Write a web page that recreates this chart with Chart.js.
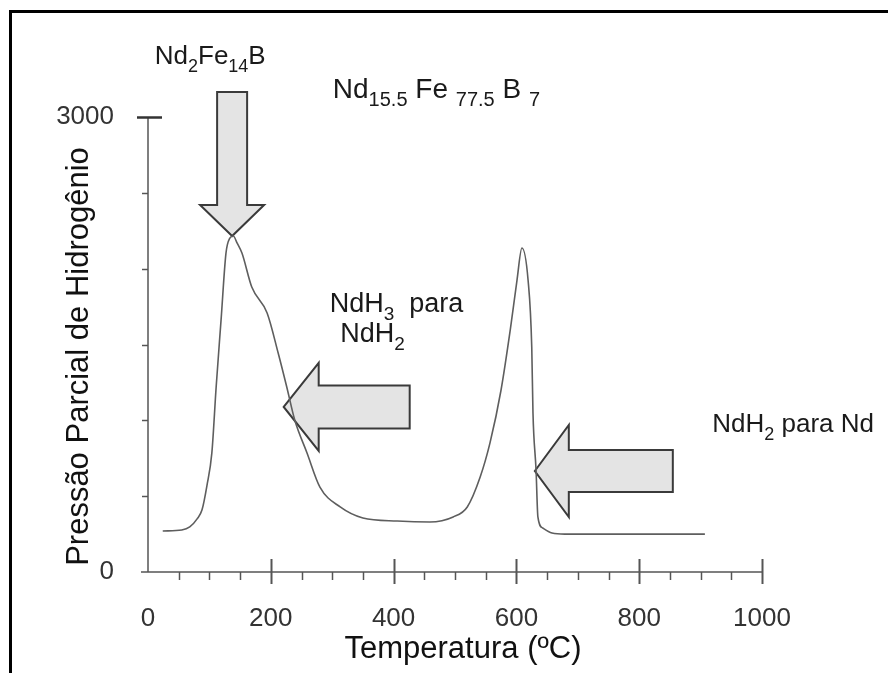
<!DOCTYPE html>
<html>
<head>
<meta charset="utf-8">
<title>Pressão parcial de hidrogênio</title>
<script src="https://cdn.jsdelivr.net/npm/chart.js@4/dist/chart.umd.min.js"></script>
<style>
  html, body { margin: 0; padding: 0; background: #fff; }
  #wrap { position: relative; width: 888px; height: 673px; overflow: hidden; }
  #frame {
    position: absolute; left: 9px; top: 10px; right: -10px; bottom: -10px;
    border-left: 3px solid #000; border-top: 3px solid #000; pointer-events: none;
  }
</style>
</head>
<body>
<div id="wrap">
  <canvas id="hChart" width="888" height="673"></canvas>
  <div id="frame"></div>
</div>
<script>
// curva de dessorção (temperatura em ºC, pressão parcial)
const temperatura = [24, 55, 68, 80, 88, 96, 104, 111, 119, 127, 133, 139, 145, 153, 169, 194, 212, 226, 239, 259, 280, 313, 350, 406, 459, 497, 520, 541, 557, 575, 590, 601, 609, 619, 625, 627, 632, 635, 643, 658, 679, 907];
const pressao = [270, 277, 297, 350, 410, 570, 785, 1220, 1662, 2103, 2200, 2215, 2170, 2103, 1879, 1708, 1444, 1220, 1002, 785, 560, 429, 356, 336, 330, 363, 429, 626, 851, 1200, 1596, 1925, 2136, 1925, 1483, 1048, 672, 363, 290, 257, 250, 250];

const xTickLabels = [0, 200, 400, 600, 800, 1000];
const yTickLabels = [0, 3000];

// setas: ponta em coordenadas dos dados, tamanhos em px
const setas = [
  { x: 137, y: 2215, dir: 'down', len: 144, head: 31, shaft: 30, headW: 64 },
  { x: 221, y: 1088, dir: 'left', len: 126, head: 35, shaft: 43, headW: 88 },
  { x: 630, y: 666, dir: 'left', len: 138, head: 34, shaft: 42, headW: 92 }
];

// rótulos com subscritos
const rotulos = [
  { x: 11, y: 3349, size: 26, parts: [['Nd'], ['2', 1], ['Fe'], ['14', 1], ['B']] },
  { x: 301, y: 3125, size: 28, parts: [['Nd'], ['15.5', 1], [' Fe '], ['77.5', 1], [' B '], ['7', 1]] },
  { x: 296, y: 1714, size: 27, parts: [['NdH'], ['3', 1], ['  para']] },
  { x: 313, y: 1516, size: 27, parts: [['NdH'], ['2', 1]] },
  { x: 919, y: 923, size: 26, parts: [['NdH'], ['2', 1], [' para Nd']] }
];

const FONT = "'Liberation Sans', Arial, Helvetica, sans-serif";
Chart.defaults.font.family = FONT;

function drawRich(ctx, x, y, parts, size) {
  let cx = x;
  parts.forEach(p => {
    const sub = p[1] === 1;
    ctx.font = (sub ? Math.round(size * 0.7) : size) + 'px ' + FONT;
    ctx.fillText(p[0], cx, sub ? y + size * 0.3 : y);
    cx += ctx.measureText(p[0]).width;
  });
}

function arrowPath(ctx, tx, ty, s) {
  const hs = s.shaft / 2, hh = s.headW / 2;
  ctx.beginPath();
  if (s.dir === 'left') {
    ctx.moveTo(tx, ty);
    ctx.lineTo(tx + s.head, ty - hh);
    ctx.lineTo(tx + s.head, ty - hs);
    ctx.lineTo(tx + s.len, ty - hs);
    ctx.lineTo(tx + s.len, ty + hs);
    ctx.lineTo(tx + s.head, ty + hs);
    ctx.lineTo(tx + s.head, ty + hh);
  } else {
    ctx.moveTo(tx, ty);
    ctx.lineTo(tx - hh, ty - s.head);
    ctx.lineTo(tx - hs, ty - s.head);
    ctx.lineTo(tx - hs, ty - s.len);
    ctx.lineTo(tx + hs, ty - s.len);
    ctx.lineTo(tx + hs, ty - s.head);
    ctx.lineTo(tx + hh, ty - s.head);
  }
  ctx.closePath();
}

const eixos = {
  id: 'eixos',
  beforeDatasetsDraw(chart) {
    const { ctx, chartArea: a, scales: { x, y } } = chart;
    ctx.save();
    ctx.strokeStyle = '#555';
    ctx.lineWidth = 1.5;
    // linhas dos eixos
    ctx.beginPath();
    ctx.moveTo(a.left, a.top);
    ctx.lineTo(a.left, a.bottom);
    ctx.moveTo(a.left - 7, a.bottom);
    ctx.lineTo(a.right, a.bottom);
    ctx.stroke();
    // marcas do eixo x
    x.ticks.forEach(t => {
      const px = Math.round(x.getPixelForValue(t.value)) + 0.5;
      ctx.beginPath();
      if (t.value % 200 === 0) {
        if (t.value === 0) return;
        ctx.lineWidth = 2;
        ctx.moveTo(px, a.bottom - 13);
        ctx.lineTo(px, a.bottom + 12);
      } else {
        ctx.lineWidth = 1.5;
        ctx.moveTo(px, a.bottom);
        ctx.lineTo(px, a.bottom + 8);
      }
      ctx.stroke();
    });
    // marcas do eixo y
    y.ticks.forEach(t => {
      const py = Math.round(y.getPixelForValue(t.value)) + 0.5;
      ctx.beginPath();
      if (t.value === 3000) {
        ctx.lineWidth = 2.5;
        ctx.strokeStyle = '#333';
        ctx.moveTo(a.left - 11, py);
        ctx.lineTo(a.left + 14, py);
      } else if (t.value > 0) {
        ctx.lineWidth = 1.5;
        ctx.strokeStyle = '#555';
        ctx.moveTo(a.left - 6, py);
        ctx.lineTo(a.left, py);
      }
      ctx.stroke();
    });
    // setas
    ctx.fillStyle = '#e4e4e4';
    ctx.strokeStyle = '#3a3a3a';
    ctx.lineWidth = 2;
    ctx.lineJoin = 'miter';
    setas.forEach(s => {
      arrowPath(ctx, x.getPixelForValue(s.x), y.getPixelForValue(s.y), s);
      ctx.fill();
      ctx.stroke();
    });
    ctx.restore();
  },
  afterDraw(chart) {
    const { ctx, chartArea: a, scales: { x, y } } = chart;
    ctx.save();
    ctx.fillStyle = '#1a1a1a';
    ctx.textBaseline = 'alphabetic';
    ctx.textAlign = 'left';
    rotulos.forEach(r => drawRich(ctx, x.getPixelForValue(r.x), y.getPixelForValue(r.y), r.parts, r.size));
    // títulos dos eixos
    ctx.fillStyle = '#111';
    ctx.font = '31px ' + FONT;
    ctx.textAlign = 'center';
    ctx.fillText('Temperatura (ºC)', (a.left + a.right) / 2 + 8, a.bottom + 86);
    ctx.translate(a.left - 60, (a.top + a.bottom) / 2 + 12);
    ctx.rotate(-Math.PI / 2);
    ctx.fillText('Pressão Parcial de Hidrogênio', 0, 0);
    ctx.restore();
  }
};

new Chart(document.getElementById('hChart'), {
  type: 'scatter',
  data: {
    datasets: [{
      data: temperatura.map((t, i) => ({ x: t, y: pressao[i] })),
      showLine: true,
      borderColor: '#5e5e5e',
      borderWidth: 1.6,
      pointRadius: 0,
      cubicInterpolationMode: 'monotone'
    }]
  },
  options: {
    responsive: false,
    animation: false,
    layout: { padding: { left: 0, top: 117, right: 126, bottom: 0 } },
    plugins: { legend: { display: false }, tooltip: { enabled: false } },
    scales: {
      x: {
        type: 'linear', min: 0, max: 1000,
        grid: { display: false, drawTicks: false },
        border: { display: false },
        ticks: {
          stepSize: 50, autoSkip: false, maxRotation: 0, padding: 31,
          color: '#333', font: { size: 26 },
          callback: v => xTickLabels.includes(v) ? String(v) : ''
        },
        afterFit: s => { s.height = 101; }
      },
      y: {
        type: 'linear', min: 0, max: 3000,
        grid: { display: false, drawTicks: false },
        border: { display: false },
        ticks: {
          stepSize: 500, autoSkip: false, padding: 34,
          color: '#333', font: { size: 26 },
          callback: v => yTickLabels.includes(v) ? String(v) : ''
        },
        afterFit: s => { s.width = 148; }
      }
    }
  },
  plugins: [eixos]
});
</script>
</body>
</html>
